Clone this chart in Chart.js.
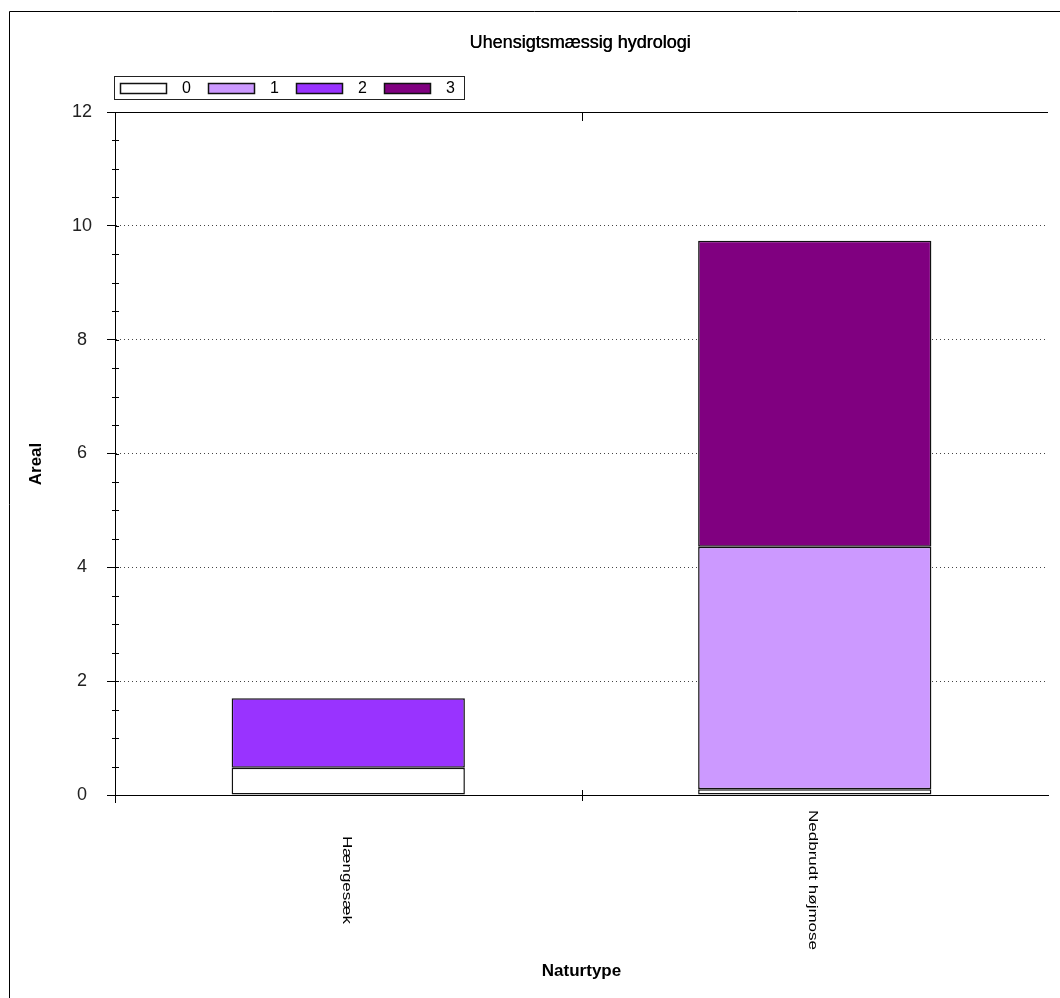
<!DOCTYPE html>
<html>
<head>
<meta charset="utf-8">
<title>Uhensigtsmæssig hydrologi</title>
<script src="https://cdn.jsdelivr.net/npm/chart.js@4.4.1/dist/chart.umd.min.js"></script>
<style>
  html, body { margin: 0; padding: 0; background: #fff; }
  canvas { display: block; }
</style>
</head>
<body>
<canvas id="hydroChart" width="1060" height="998"></canvas>
<script>
const categories = ['Hængesæk', 'Nedbrudt højmose'];
const seriesNames = ['0', '1', '2', '3'];
const values0 = [0.48, 0.10];
const values1 = [null, 4.26];
const values2 = [1.22, null];
const values3 = [null, 5.38];
const seriesColors = ['#FFFFFF', '#CC99FF', '#9933FF', '#800080'];
const yMax = 12;
const yStep = 2;
const yMinorStep = 0.5;

const FONT = "'Liberation Sans', Arial, sans-serif";
const allValues = [values0, values1, values2, values3];

// extra drawing: frame, title, boxed legend, minor ticks, rotated labels
const decorPlugin = {
    id: 'decor',
    afterDraw(chart) {
        const ctx = chart.ctx;
        const area = chart.chartArea;
        const x = chart.scales.x;
        const y = chart.scales.y;
        ctx.save();

        // outer frame
        ctx.strokeStyle = '#000';
        ctx.lineWidth = 1;
        ctx.beginPath();
        ctx.moveTo(9.5, 998);
        ctx.lineTo(9.5, 11.5);
        ctx.lineTo(1060, 11.5);
        ctx.stroke();

        // title
        ctx.fillStyle = '#000';
        ctx.font = '18px ' + FONT;
        ctx.textAlign = 'center';
        ctx.textBaseline = 'middle';
        ctx.fillText('Uhensigtsmæssig hydrologi', 580, 43);
        ctx.fillText('Uhensigtsmæssig hydrologi', 580.4, 43);

        // legend box
        ctx.strokeStyle = '#222';
        ctx.strokeRect(114.5, 76.5, 350, 23);
        ctx.font = '16px ' + FONT;
        ctx.textAlign = 'left';
        chart.data.datasets.forEach((ds, i) => {
            const sx = 120 + i * 88;
            ctx.fillStyle = ds.backgroundColor;
            ctx.fillRect(sx, 83, 47, 11);
            ctx.strokeStyle = '#111';
            ctx.lineWidth = 1.5;
            ctx.strokeRect(sx + 0.5, 83.5, 46, 10);
            ctx.lineWidth = 1;
            ctx.fillStyle = '#000';
            ctx.fillText(ds.label, sx + 62, 88.5);
        });

        // top border line and y axis extension
        ctx.strokeStyle = '#000';
        ctx.beginPath();
        ctx.moveTo(area.left - 7, area.top + 0.5);
        ctx.lineTo(area.right, area.top + 0.5);
        ctx.moveTo(area.left + 0.5, area.bottom);
        ctx.lineTo(area.left + 0.5, area.bottom + 8);
        ctx.stroke();

        // y ticks crossing the axis
        ctx.beginPath();
        for (let v = 0; v <= yMax + 1e-9; v += yMinorStep) {
            const py = Math.round(y.getPixelForValue(v)) + 0.5;
            const major = Math.abs(v / yStep - Math.round(v / yStep)) < 1e-9;
            if (major) {
                if (v === 0 || v === yMax) continue;
                ctx.moveTo(area.left, py);
                ctx.lineTo(area.left + 4, py);
            } else {
                ctx.moveTo(area.left - 3, py);
                ctx.lineTo(area.left + 4, py);
            }
        }
        ctx.stroke();

        // x category separator ticks
        ctx.beginPath();
        for (let i = 1; i < categories.length; i++) {
            const px = Math.round((x.getPixelForTick(i - 1) + x.getPixelForTick(i)) / 2) + 0.5;
            ctx.moveTo(px, area.bottom - 5);
            ctx.lineTo(px, area.bottom + 6);
            ctx.moveTo(px, area.top);
            ctx.lineTo(px, area.top + 9);
        }
        ctx.stroke();

        // x labels, rotated clockwise and stretched along the text
        ctx.fillStyle = '#000';
        ctx.font = '12px ' + FONT;
        ctx.textAlign = 'center';
        ctx.textBaseline = 'middle';
        chart.data.labels.forEach((lab, i) => {
            const px = x.getPixelForTick(i) - 2;
            ctx.save();
            ctx.translate(px, 880);
            ctx.rotate(Math.PI / 2);
            ctx.scale(1.42, 1);
            ctx.fillText(lab, 0, 0);
            ctx.restore();
        });

        // y axis title
        ctx.font = 'bold 17px ' + FONT;
        ctx.save();
        ctx.translate(36, 464);
        ctx.rotate(-Math.PI / 2);
        ctx.fillText('Areal', 0, 0);
        ctx.restore();

        ctx.restore();
    }
};

new Chart(document.getElementById('hydroChart'), {
    type: 'bar',
    data: {
        labels: categories,
        datasets: seriesNames.map((name, i) => ({
            label: name,
            data: allValues[i],
            backgroundColor: seriesColors[i],
            borderColor: '#111',
            borderWidth: 1.5,
            borderSkipped: false,
            barPercentage: 0.5,
            categoryPercentage: 1.0
        }))
    },
    options: {
        responsive: false,
        animation: false,
        devicePixelRatio: 1,
        layout: { padding: { top: 112, right: 12, left: 0, bottom: 0 } },
        plugins: {
            legend: { display: false },
            title: { display: false },
            tooltip: { enabled: false }
        },
        scales: {
            x: {
                stacked: true,
                grid: { display: false },
                border: { display: true, color: '#000', width: 1 },
                ticks: { display: false },
                title: {
                    display: true,
                    text: 'Naturtype',
                    color: '#000',
                    font: { family: FONT, size: 17, weight: 'bold' },
                    padding: { top: 0, bottom: 16 }
                },
                afterFit(scale) { scale.height = 203; }
            },
            y: {
                stacked: true,
                min: 0,
                max: yMax,
                ticks: {
                    stepSize: yStep,
                    color: '#222',
                    padding: 15,
                    crossAlign: 'center',
                    font: { family: FONT, size: 18 }
                },
                grid: {
                    color: ctx => (ctx.tick && (ctx.tick.value === 0 || ctx.tick.value === yMax)) ? 'rgba(0,0,0,0)' : '#444',
                    tickColor: '#000',
                    tickLength: 8,
                    lineWidth: 1
                },
                border: { display: true, color: '#000', width: 1, dash: [1, 3] },
                afterFit(scale) { scale.width = 115; }
            }
        }
    },
    plugins: [decorPlugin]
});
</script>
</body>
</html>
